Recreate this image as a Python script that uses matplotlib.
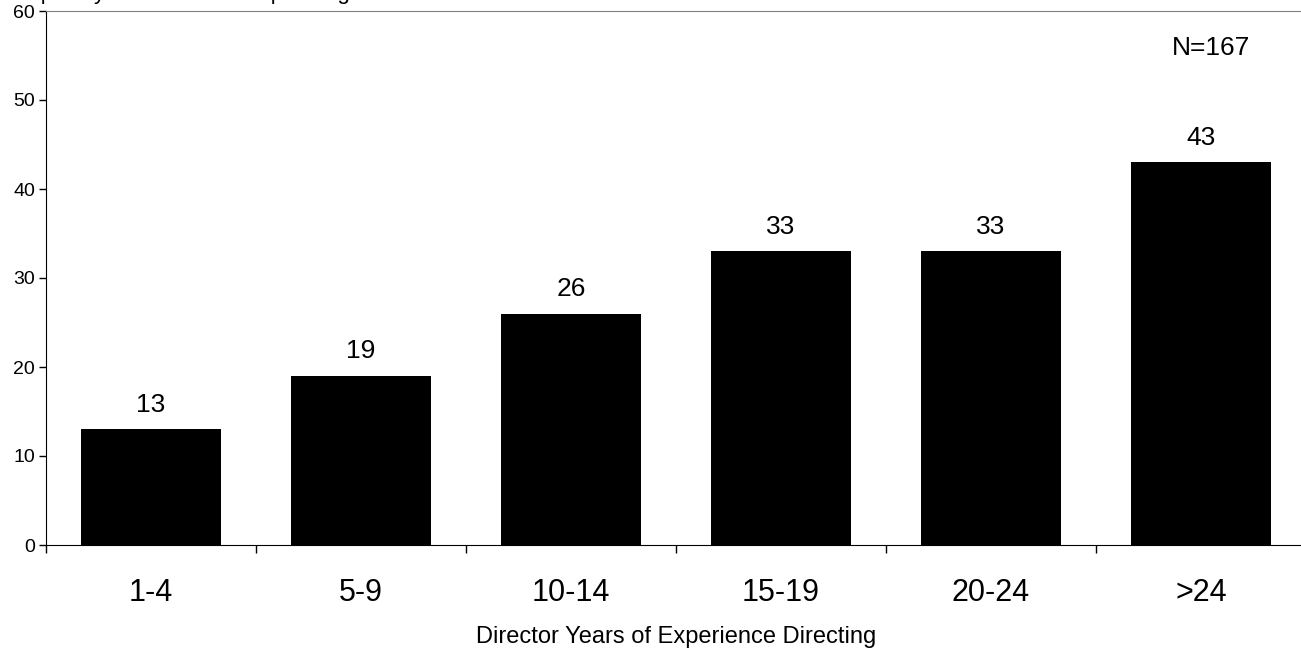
import numpy as np
import matplotlib
matplotlib.use("Agg")
import matplotlib.pyplot as plt

plt.rcParams['font.family'] = ['Liberation Sans', 'DejaVu Sans']

categories = ['1-4', '5-9', '10-14', '15-19', '20-24', '>24']
counts = [13, 19, 26, 33, 33, 43]
y_ticks = [0, 10, 20, 30, 40, 50, 60]

fig = plt.figure(figsize=(13.01, 6.5), dpi=100, facecolor='white')
ax = fig.add_axes([46 / 1301, 105 / 650, 1260 / 1301, 534 / 650])

x = np.arange(len(categories))
ax.bar(x, counts, width=0.67, color='black', zorder=2)

for xi, v in zip(x, counts):
    ax.text(xi, v + 1.4, str(v), ha='center', va='bottom', fontsize=19)

ax.set_xlim(-0.5, len(categories) - 0.5)
ax.set_ylim(0, 60)
ax.set_yticks(y_ticks)
ax.set_yticklabels([str(t) for t in y_ticks], fontsize=14)
ax.tick_params(axis='y', direction='out', length=5, width=1, pad=3)

# ticks between categories, labels centred under bars
ax.set_xticks(np.arange(len(categories) + 1) - 0.5)
ax.set_xticklabels([])
ax.set_xticks(x, minor=True)
ax.set_xticklabels(categories, minor=True, fontsize=22)
ax.tick_params(axis='x', which='major', direction='out', length=6, width=1)
ax.tick_params(axis='x', which='minor', length=0, pad=24)

ax.set_xlabel('Director Years of Experience Directing', fontsize=17)
ax.xaxis.set_label_coords(0.5, -0.152)

ax.spines['right'].set_visible(False)
ax.spines['top'].set_color('#808080')
ax.spines['left'].set_color('black')
ax.spines['bottom'].set_color('black')

ax.text(0.925, 0.93, 'N=167', transform=ax.transAxes, ha='center', va='center', fontsize=19)

# y-axis title, mostly cut off at the top of the picture
fig.text(0.0, (650 + 1) / 650, 'Frequency of Directors Responding', ha='left',
         va='baseline', fontsize=16)

fig.savefig('out.png', dpi=100, facecolor='white')
